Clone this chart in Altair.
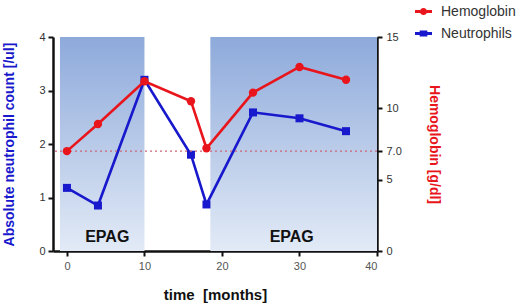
import altair as alt
import pandas as pd

months = [0, 4, 10, 16, 18, 24, 30, 36]
neutrophils = [1.18, 0.85, 3.2, 1.8, 0.87, 2.59, 2.48, 2.24]
hemoglobin = [7.0, 8.9, 11.9, 10.5, 7.2, 11.1, 12.9, 12.0]

epag_start = [-0.9, 18.5]
epag_end = [10, 40]
epag_label_x = [5.2, 29.0]
epag_label_y = [0.27, 0.27]

hb_threshold = 7.0
series_names = ["Hemoglobin", "Neutrophils"]

RED = "#e8161c"
BLUE = "#1818cc"
FONT = "Liberation Sans"

neut_df = pd.DataFrame({"month": months, "value": neutrophils})
hb_df = pd.DataFrame({"month": months, "value": hemoglobin})
shade_df = pd.DataFrame({"start": epag_start, "end": epag_end,
                         "lo": [0, 0], "hi": [4, 4]})
label_df = pd.DataFrame({"month": epag_label_x, "value": epag_label_y,
                         "txt": ["EPAG", "EPAG"]})
legend_df = pd.DataFrame({"series": series_names})

x_scale = alt.Scale(domain=[-1.8, 40], nice=False, zero=False)
x_axis = alt.Axis(values=[0, 10, 20, 30, 40], title="time\u00a0 [months]",
                  titleFontSize=15, titleFontWeight="bold", titleColor="#111",
                  titlePadding=16, labelFontSize=11, labelColor="#555",
                  labelPadding=4, tickSize=5, tickWidth=2, tickColor="#111",
                  domainColor="#111", domainWidth=2.5, grid=False)


def X(field):
    return alt.X(field, type="quantitative", scale=x_scale, axis=x_axis)


left_scale = alt.Scale(domain=[0, 4], nice=False, zero=True)
left_axis = alt.Axis(values=[0, 1, 2, 3, 4], title="Absolute neutrophil count [/ul]",
                     titleFontSize=14, titleFontWeight="bold", titleColor=BLUE,
                     titlePadding=22, labelFontSize=11, labelColor="#333",
                     labelPadding=3, tickSize=5, tickWidth=2, tickColor="#111",
                     domainColor="#111", domainWidth=2.5, grid=False)


def YL(field):
    return alt.Y(field, type="quantitative", scale=left_scale, axis=left_axis)


right_scale = alt.Scale(domain=[0, 15], nice=False, zero=True)
right_axis = alt.Axis(orient="right", values=[0, 5, 7, 10, 15],
                      labelExpr="datum.value == 7 ? '7.0' : datum.label",
                      title="Hemoglobin [g/dl]", titleFontSize=14,
                      titleFontWeight="bold", titleColor=RED, titlePadding=25,
                      labelFontSize=11, labelColor="#333", labelPadding=4,
                      tickSize=5, tickWidth=2, tickColor="#111",
                      domainColor="#111", domainWidth=2.5, grid=False)


def YR(field):
    return alt.Y(field, type="quantitative", scale=right_scale, axis=right_axis)


gradient = alt.Gradient(
    gradient="linear",
    stops=[alt.GradientStop(color="#8eaadb", offset=0),
           alt.GradientStop(color="#e2eaf6", offset=1)],
    x1=0, x2=0, y1=0, y2=1)

shade = alt.Chart(shade_df).mark_rect(color=gradient).encode(
    x=X("start"), x2="end", y=YL("lo"), y2="hi")

labels = alt.Chart(label_df).mark_text(
    font=FONT, fontSize=16, fontWeight="bold", color="#111").encode(
    x=X("month"), y=YL("value"), text="txt:N")

neut_line = alt.Chart(neut_df).mark_line(color=BLUE, strokeWidth=2.6).encode(
    x=X("month"), y=YL("value"))
neut_pts = alt.Chart(neut_df).mark_point(
    shape="square", filled=True, color=BLUE, size=64, opacity=1).encode(
    x=X("month"), y=YL("value"))

line_circle = ("M-1,-0.17H-0.4V0.17H-1Z M0.4,-0.17H1V0.17H0.4Z "
               "M0.42,0A0.42,0.42 0 1,1 -0.42,0A0.42,0.42 0 1,1 0.42,0Z")
line_square = ("M-1,-0.17H-0.4V0.17H-1Z M0.4,-0.17H1V0.17H0.4Z "
               "M-0.45,-0.36H0.45V0.36H-0.45Z")

legend_props = dict(title=None, orient="none", legendX=361, legendY=-35,
                    symbolOpacity=1, symbolSize=289, labelFontSize=14,
                    labelColor="#333", labelFont=FONT, rowPadding=5,
                    labelOffset=8)

legend_layer = alt.Chart(legend_df).mark_point(filled=True, opacity=0).encode(
    color=alt.Color("series:N",
                    scale=alt.Scale(domain=series_names, range=[RED, BLUE]),
                    legend=alt.Legend(**legend_props)),
    shape=alt.Shape("series:N",
                    scale=alt.Scale(domain=series_names,
                                    range=[line_circle, line_square]),
                    legend=alt.Legend(**legend_props)))

rule = alt.Chart(pd.DataFrame({"v": [hb_threshold]})).mark_rule(
    color="#cc6677", strokeDash=[2, 3], strokeWidth=1.3).encode(y=YR("v"))

hb_line = alt.Chart(hb_df).mark_line(color=RED, strokeWidth=2.6).encode(
    x=X("month"), y=YR("value"))
hb_pts = alt.Chart(hb_df).mark_point(
    shape="circle", filled=True, color=RED, size=70, opacity=1).encode(
    x=X("month"), y=YR("value"))

left = alt.layer(shade, labels, neut_line, neut_pts, legend_layer)
right = alt.layer(rule, hb_line, hb_pts)

chart = alt.layer(left, right).resolve_scale(y="independent").properties(
    width=324, height=214,
    autosize=alt.AutoSizeParams(type="none"),
    padding={"left": 53, "top": 37, "right": 143, "bottom": 56},
    background="white",
).configure_view(stroke=None).configure_axis(labelFont=FONT, titleFont=FONT)

chart.save("out.html", embed_options={"renderer": "svg", "actions": False})
